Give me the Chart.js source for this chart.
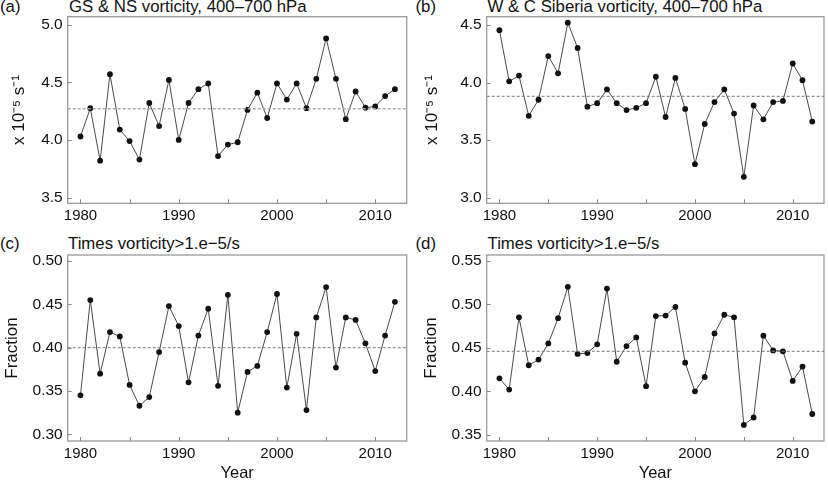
<!DOCTYPE html>
<html>
<head>
<meta charset="utf-8">
<script src="https://cdn.jsdelivr.net/npm/chart.js@4.4.1/dist/chart.umd.min.js"></script>
<style>
  body { margin: 0; background: #fff; width: 828px; height: 480px; position: relative; overflow: hidden;
         font-family: "Liberation Sans", Arial, sans-serif; }
  canvas { position: absolute; }
  .lbl { position: absolute; font-size: 16.8px; line-height: 1; color: #111; white-space: nowrap; }
</style>
</head>
<body>
<div class="lbl" style="left:0px;top:-1px">(a)</div>
<div class="lbl" style="left:69px;top:-1px">GS &amp; NS vorticity, 400–700 hPa</div>
<div class="lbl" style="left:415.5px;top:-1px">(b)</div>
<div class="lbl" style="left:487.5px;top:-1px">W &amp; C Siberia vorticity, 400–700 hPa</div>
<div class="lbl" style="left:0px;top:235.5px">(c)</div>
<div class="lbl" style="left:68px;top:235.5px">Times vorticity&gt;1.e−5/s</div>
<div class="lbl" style="left:415.5px;top:235.5px">(d)</div>
<div class="lbl" style="left:487.5px;top:235.5px">Times vorticity&gt;1.e−5/s</div>

<canvas id="chartA" width="414" height="240" style="left:0;top:0"></canvas>
<canvas id="chartB" width="414" height="240" style="left:414px;top:0"></canvas>
<canvas id="chartC" width="414" height="240" style="left:0;top:240px"></canvas>
<canvas id="chartD" width="414" height="240" style="left:414px;top:240px"></canvas>

<script>
const years = [1980, 1981, 1982, 1983, 1984, 1985, 1986, 1987, 1988, 1989,
  1990, 1991, 1992, 1993, 1994, 1995, 1996, 1997, 1998, 1999,
  2000, 2001, 2002, 2003, 2004, 2005, 2006, 2007, 2008, 2009,
  2010, 2011, 2012];

// (a) GS & NS vorticity, 400-700 hPa (x 10^-5 s^-1)
const vortGSNS = [4.03, 4.275, 3.82, 4.57, 4.09, 3.99, 3.83, 4.32, 4.12, 4.52,
  4.00, 4.32, 4.44, 4.49, 3.86, 3.96, 3.98, 4.26, 4.41, 4.19,
  4.49, 4.35, 4.49, 4.275, 4.53, 4.88, 4.53, 4.18, 4.42, 4.28,
  4.29, 4.38, 4.44];
const meanGSNS = 4.27;

// (b) W & C Siberia vorticity, 400-700 hPa
const vortSiberia = [4.455, 4.01, 4.06, 3.71, 3.85, 4.23, 4.08, 4.52, 4.30, 3.79,
  3.82, 3.94, 3.82, 3.76, 3.78, 3.82, 4.05, 3.70, 4.04, 3.77,
  3.29, 3.64, 3.83, 3.94, 3.73, 3.18, 3.80, 3.68, 3.83, 3.84,
  4.165, 4.02, 3.66];
const meanSiberia = 3.88;

// (c) fraction of times vorticity > 1e-5/s, GS & NS
const fracGSNS = [0.345, 0.455, 0.370, 0.418, 0.413, 0.357, 0.333, 0.343, 0.395, 0.448,
  0.425, 0.360, 0.414, 0.445, 0.356, 0.461, 0.325, 0.372, 0.379, 0.418,
  0.462, 0.354, 0.416, 0.328, 0.435, 0.470, 0.377, 0.435, 0.432, 0.405,
  0.373, 0.414, 0.453];
const meanFracGSNS = 0.400;

// (d) fraction of times vorticity > 1e-5/s, Siberia
const fracSiberia = [0.415, 0.402, 0.485, 0.430, 0.4365, 0.455, 0.484, 0.520, 0.443, 0.444,
  0.454, 0.518, 0.434, 0.452, 0.462, 0.406, 0.4865, 0.487, 0.497, 0.433,
  0.400, 0.4165, 0.4665, 0.488, 0.485, 0.3615, 0.370, 0.464, 0.447, 0.446,
  0.412, 0.4285, 0.374];
const meanFracSiberia = 0.446;

const xTicks = [1980, 1985, 1990, 1995, 2000, 2005, 2010];
const yTicksGSNS = [3.5, 4.0, 4.5, 5.0];
const yTicksSiberia = [3.0, 3.5, 4.0, 4.5];
const yTicksFracGSNS = [0.30, 0.35, 0.40, 0.45, 0.50];
const yTicksFracSiberia = [0.35, 0.40, 0.45, 0.50, 0.55];

const X_MIN = 1978.7;
const X_MAX = 2013.2;
const FONT = '"Liberation Sans", Arial, sans-serif';

// frame round the plot area with short ticks pointing inward
const framePlugin = {
  id: 'frame',
  beforeDatasetsDraw(chart) {
    const { ctx, chartArea: a, scales } = chart;
    ctx.save();
    ctx.strokeStyle = '#9a9a9a';
    ctx.lineWidth = 1.3;
    ctx.strokeRect(a.left, a.top, a.right - a.left, a.bottom - a.top);
    ctx.lineWidth = 1;
    ctx.strokeStyle = '#888';
    ctx.beginPath();
    scales.x.ticks.forEach(t => {
      const px = Math.round(scales.x.getPixelForValue(t.value)) + 0.5;
      ctx.moveTo(px, a.bottom);
      ctx.lineTo(px, a.bottom - 4);
    });
    scales.y.ticks.forEach(t => {
      const py = Math.round(scales.y.getPixelForValue(t.value)) + 0.5;
      ctx.moveTo(a.left, py);
      ctx.lineTo(a.left + 4, py);
    });
    ctx.stroke();
    ctx.restore();
  }
};

function makePanel(id, values, mean, yTicks, yMin, yMax, decimals, yTitle, p) {
  new Chart(document.getElementById(id), {
    type: 'line',
    data: {
      datasets: [
        {
          data: [{ x: X_MIN, y: mean }, { x: X_MAX, y: mean }],
          borderColor: p.meanColor,
          borderWidth: p.meanWidth,
          borderDash: [3, 2],
          pointRadius: 0
        },
        {
          data: years.map((yr, i) => ({ x: yr, y: values[i] })),
          borderColor: '#4a4a4a',
          borderWidth: 1,
          pointRadius: 2.9,
          pointBackgroundColor: '#111',
          pointBorderColor: '#111',
          pointBorderWidth: 0,
          tension: 0
        }
      ]
    },
    options: {
      responsive: false,
      animation: false,
      events: [],
      layout: { padding: { left: 0, top: p.top, right: p.right, bottom: 0 } },
      plugins: { legend: { display: false }, tooltip: { enabled: false } },
      scales: {
        x: {
          type: 'linear',
          min: X_MIN,
          max: X_MAX,
          afterBuildTicks: s => { s.ticks = xTicks.map(v => ({ value: v })); },
          afterFit: s => { s.height = p.xHeight; },
          grid: { display: false, drawTicks: false },
          border: { display: false },
          ticks: {
            autoSkip: false,
            maxRotation: 0,
            padding: 4,
            color: '#111',
            font: { family: FONT, size: 15 },
            callback: v => (v % 10 === 0 ? String(v) : '')
          },
          title: {
            display: p.showYear,
            text: 'Year',
            color: '#111',
            padding: { top: 0, bottom: -2 },
            font: { family: FONT, size: 16.5, lineHeight: 1 }
          }
        },
        y: {
          min: yMin,
          max: yMax,
          afterBuildTicks: s => { s.ticks = yTicks.map(v => ({ value: v })); },
          afterFit: s => { s.width = p.yWidth; },
          grid: { display: false, drawTicks: false },
          border: { display: false },
          ticks: {
            padding: 5,
            color: '#111',
            font: { family: FONT, size: 15.5 },
            callback: v => Number(v).toFixed(decimals)
          },
          title: {
            display: true,
            text: yTitle,
            color: '#111',
            padding: { top: p.titleX - 8.5, bottom: 0 },
            font: { family: FONT, size: 17, lineHeight: 1 }
          }
        }
      }
    },
    plugins: [framePlugin]
  });
}

const unitTitle = 'x 10\u207B\u2075 s\u207B\u00B9';

makePanel('chartA', vortGSNS, meanGSNS, yTicksGSNS, 3.451, 5.068, 1, unitTitle,
  { top: 16.7, right: 7.3, yWidth: 67.7, xHeight: 36.7, showYear: false, titleX: 19, meanColor: '#aaa', meanWidth: 1.6 });
makePanel('chartB', vortSiberia, meanSiberia, yTicksSiberia, 2.95, 4.572, 1, unitTitle,
  { top: 16.7, right: 2, yWidth: 72.7, xHeight: 36.7, showYear: false, titleX: 18, meanColor: '#777', meanWidth: 1 });
makePanel('chartC', fracGSNS, meanFracGSNS, yTicksFracGSNS, 0.2923, 0.507, 2, 'Fraction',
  { top: 15, right: 7.3, yWidth: 67.7, xHeight: 39, showYear: true, titleX: 12, meanColor: '#777', meanWidth: 1 });
makePanel('chartD', fracSiberia, meanFracSiberia, yTicksFracSiberia, 0.343, 0.5566, 2, 'Fraction',
  { top: 15, right: 2, yWidth: 72.7, xHeight: 39, showYear: true, titleX: 17, meanColor: '#777', meanWidth: 1 });
</script>
</body>
</html>
